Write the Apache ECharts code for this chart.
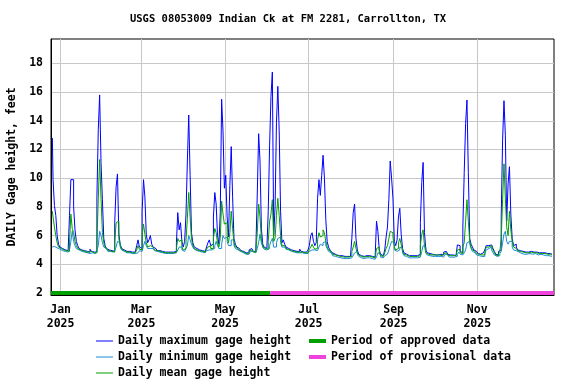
<!DOCTYPE html>
<html>
<head>
<meta charset="utf-8">
<script src="https://cdn.jsdelivr.net/npm/echarts@6/dist/echarts.min.js"></script>
<style>
  html, body { margin: 0; padding: 0; background: #fff; }
  #chart { width: 576px; height: 384px; }
</style>
</head>
<body>
<div id="chart"></div>
<script>
// daily values, one per day starting at firstDay
const firstDay = [2024, 11, 26];

const maxHeight = [
  12.8, 9.9, 8.1, 7.4, 6.0, 5.4, 5.2, 5.1, 5.05, 5.0,
  5.0, 4.95, 4.95, 7.4, 9.9, 9.9, 8.0, 6.4, 5.6, 5.3,
  5.1, 5.0, 5.0, 4.95, 4.9, 4.9, 4.9, 4.85, 5.05, 4.9,
  4.85, 4.85, 4.85, 8.7, 13.4, 15.8, 11.1, 8.5, 5.8, 5.3,
  5.1, 5.0, 5.0, 4.95, 4.95, 4.9, 6.9, 9.4, 10.3, 6.1,
  5.4, 5.1, 5.0, 4.95, 4.9, 4.9, 4.9, 4.85, 4.85, 4.85,
  4.85, 4.85, 5.3, 5.7, 5.2, 5.1, 7.7, 9.9, 8.7, 6.1,
  5.5, 5.7, 6.0, 5.4, 5.2, 5.1, 5.0, 4.95, 4.95, 4.9,
  4.9, 4.9, 4.85, 4.85, 4.85, 4.9, 4.85, 4.85, 4.85, 4.85,
  4.9, 5.5, 7.6, 6.4, 6.9, 5.6, 5.2, 5.6, 7.5, 11.2,
  14.4, 10.2, 6.2, 5.5, 5.2, 5.1, 5.0, 5.0, 4.95, 4.95,
  4.9, 4.9, 4.95, 5.2, 5.5, 5.7, 5.3, 5.4, 7.3, 9.0,
  8.2, 6.0, 5.4, 7.6, 15.5, 13.3, 9.3, 10.2, 7.3, 5.9,
  9.5, 12.2, 8.7, 5.8, 5.4, 5.2, 5.1, 5.0, 4.95, 4.9,
  4.85, 4.8, 4.75, 4.8, 5.0, 5.1, 5.0, 4.9, 4.9, 5.2,
  8.9, 13.1, 11.2, 6.5, 5.4, 5.2, 5.1, 5.2, 7.7, 12.3,
  15.7, 17.4, 6.0, 8.0, 13.9, 16.4, 13.3, 7.7, 5.5, 5.7,
  5.4, 5.2, 5.1, 5.05, 5.0, 5.0, 4.95, 4.95, 4.9, 4.9,
  4.9, 5.05, 4.9, 4.85, 4.85, 4.85, 4.85, 5.0, 5.3, 6.0,
  6.2, 5.6, 5.3, 5.5, 8.6, 9.9, 8.8, 10.2, 11.6, 10.0,
  7.1, 5.6, 5.2, 5.0, 4.85, 4.75, 4.7, 4.65, 4.65, 4.6,
  4.6, 4.6, 4.55, 4.55, 4.55, 4.55, 4.55, 4.55, 4.6, 5.8,
  7.6, 8.2, 5.8, 5.0, 4.7, 4.6, 4.6, 4.55, 4.55, 4.6,
  4.6, 4.6, 4.55, 4.55, 4.5, 4.5, 4.6, 7.0, 6.3, 5.0,
  4.7, 4.6, 4.6, 5.0, 5.9, 6.6, 8.5, 11.2, 10.0, 8.6,
  5.6, 5.3, 5.7, 7.3, 7.9, 6.1, 5.1, 4.8, 4.7, 4.65,
  4.6, 4.6, 4.6, 4.6, 4.6, 4.6, 4.6, 4.6, 4.7, 6.9,
  9.7, 11.1, 6.2, 5.0, 4.8, 4.75, 4.7, 4.7, 4.7, 4.65,
  4.65, 4.65, 4.65, 4.7, 4.65, 4.65, 4.85, 4.9, 4.8, 4.7,
  4.65, 4.65, 4.65, 4.6, 4.6, 4.7, 5.35, 5.3, 4.9, 4.8,
  6.6, 10.4, 13.8, 15.45, 10.4, 5.8, 5.4, 5.2, 5.0, 4.9,
  4.8, 4.75, 4.7, 4.7, 4.8, 4.7, 5.0, 5.3, 5.3, 5.3,
  5.35, 5.3, 5.1, 4.9, 4.7, 4.65, 4.9, 5.0, 7.3, 12.65,
  15.4, 13.0, 7.0, 9.6, 10.8, 7.5, 5.8, 5.3, 5.4, 5.2,
  5.0, 4.95, 4.9, 4.9, 4.85, 4.85, 4.85, 4.85, 4.9, 4.9,
  4.85, 4.85, 4.9, 4.85, 4.8, 4.8, 4.85, 4.8, 4.8, 4.8,
  4.75, 4.75, 4.75, 4.75, 4.7, 4.7
];

const minHeight = [
  5.2, 5.25, 5.2, 5.15, 5.1, 5.05, 5.0, 4.95, 4.95, 4.9,
  4.9, 4.85, 4.85, 5.0, 5.6, 6.3, 5.6, 5.3, 5.1, 5.0,
  4.95, 4.9, 4.9, 4.85, 4.8, 4.8, 4.8, 4.75, 4.8, 4.8,
  4.75, 4.75, 4.75, 5.0, 5.3, 6.3, 6.0, 5.5, 5.2, 5.1,
  5.0, 4.9, 4.9, 4.85, 4.85, 4.8, 5.0, 5.2, 5.6, 5.5,
  5.2, 5.0, 4.9, 4.85, 4.8, 4.8, 4.8, 4.75, 4.75, 4.75,
  4.75, 4.75, 4.8, 4.9, 4.95, 4.9, 5.0, 5.3, 5.6, 5.3,
  5.1, 5.1, 5.2, 5.1, 5.0, 4.95, 4.9, 4.85, 4.85, 4.8,
  4.8, 4.8, 4.75, 4.75, 4.75, 4.8, 4.75, 4.75, 4.75, 4.75,
  4.8, 4.85, 5.0, 5.2, 5.2, 5.0, 4.9, 4.9, 5.1, 5.3,
  6.0, 5.7, 5.4, 5.2, 5.05, 4.95, 4.9, 4.9, 4.85, 4.85,
  4.8, 4.8, 4.85, 4.95, 5.0, 5.1, 5.0, 4.95, 5.1, 5.3,
  5.6, 5.3, 5.1, 5.1, 5.4, 6.0, 5.8, 5.9, 5.6, 5.3,
  5.3, 5.7, 5.7, 5.3, 5.1, 5.0, 4.95, 4.9, 4.85, 4.8,
  4.75, 4.7, 4.65, 4.7, 4.8, 4.9, 4.9, 4.8, 4.8, 4.85,
  5.1, 5.5, 6.1, 5.5, 5.2, 5.05, 5.0, 5.0, 5.1, 5.3,
  5.6, 5.8, 5.2, 5.2, 5.5, 5.8, 5.9, 5.5, 5.2, 5.2,
  5.1, 5.05, 5.0, 4.95, 4.9, 4.9, 4.85, 4.85, 4.8, 4.8,
  4.8, 4.85, 4.8, 4.75, 4.75, 4.75, 4.75, 4.8, 4.9, 5.0,
  5.1, 5.0, 4.95, 4.95, 5.0, 5.2, 5.4, 5.3, 5.5, 5.6,
  5.3, 5.1, 4.9, 4.8, 4.7, 4.6, 4.55, 4.5, 4.5, 4.45,
  4.45, 4.45, 4.4, 4.4, 4.4, 4.4, 4.4, 4.4, 4.45, 4.5,
  4.6, 4.8, 4.9, 4.7, 4.55, 4.45, 4.45, 4.4, 4.4, 4.45,
  4.45, 4.45, 4.4, 4.4, 4.35, 4.35, 4.45, 4.5, 4.8, 4.7,
  4.5, 4.45, 4.45, 4.6, 4.7, 4.8, 5.0, 5.3, 5.6, 5.5,
  5.0, 4.9, 4.8, 5.0, 5.2, 5.1, 4.8, 4.6, 4.55, 4.5,
  4.45, 4.45, 4.45, 4.45, 4.45, 4.45, 4.45, 4.45, 4.5, 4.6,
  4.9, 5.3, 5.2, 4.8, 4.65, 4.6, 4.6, 4.55, 4.55, 4.55,
  4.55, 4.55, 4.55, 4.55, 4.5, 4.5, 4.6, 4.7, 4.65, 4.55,
  4.5, 4.5, 4.5, 4.5, 4.5, 4.55, 4.7, 4.85, 4.7, 4.65,
  4.7, 4.8, 5.0, 5.5, 5.6, 5.4, 5.1, 4.9, 4.8, 4.7,
  4.65, 4.6, 4.55, 4.55, 4.6, 4.55, 4.7, 5.0, 5.1, 5.15,
  5.2, 5.0, 4.8, 4.65, 4.55, 4.5, 4.6, 4.75, 4.9, 5.5,
  6.1, 6.3, 5.6, 5.4, 5.6, 5.6, 5.2, 5.0, 4.95, 4.9,
  4.85, 4.8, 4.75, 4.75, 4.7, 4.7, 4.7, 4.7, 4.75, 4.75,
  4.7, 4.7, 4.75, 4.7, 4.65, 4.65, 4.7, 4.65, 4.65, 4.65,
  4.6, 4.6, 4.6, 4.6, 4.55, 4.55
];

const meanHeight = [
  7.7, 7.3, 6.6, 6.0, 5.5, 5.2, 5.1, 5.05, 5.0, 4.95,
  4.95, 4.9, 4.9, 5.5, 7.5, 6.5, 6.2, 5.6, 5.3, 5.1,
  5.0, 4.95, 4.95, 4.9, 4.85, 4.85, 4.85, 4.8, 4.9, 4.85,
  4.8, 4.8, 4.8, 5.5, 8.6, 11.3, 8.6, 6.2, 5.5, 5.2,
  5.05, 4.95, 4.95, 4.9, 4.9, 4.85, 5.5, 6.9, 7.0, 5.8,
  5.3, 5.05, 4.95, 4.9, 4.85, 4.85, 4.85, 4.8, 4.8, 4.8,
  4.8, 4.8, 5.0, 5.3, 5.05, 5.0, 6.0, 6.8, 6.1, 5.5,
  5.2, 5.3, 5.4, 5.2, 5.1, 5.0, 4.95, 4.9, 4.9, 4.85,
  4.85, 4.85, 4.8, 4.8, 4.8, 4.85, 4.8, 4.8, 4.8, 4.8,
  4.85, 5.1, 5.8, 5.6, 5.7, 5.2, 5.0, 5.1, 5.7, 7.2,
  9.0, 7.3, 5.8, 5.3, 5.1, 5.0, 4.95, 4.95, 4.9, 4.9,
  4.85, 4.85, 4.9, 5.05, 5.2, 5.3, 5.1, 5.1, 5.8, 6.5,
  6.2, 5.5, 5.2, 5.8, 8.4, 7.5, 6.8, 6.9, 6.0, 5.5,
  6.2, 7.7, 6.5, 5.5, 5.2, 5.1, 5.0, 4.95, 4.9, 4.85,
  4.8, 4.75, 4.7, 4.75, 4.9, 5.0, 4.95, 4.85, 4.85, 5.0,
  6.2, 8.2, 7.3, 5.8, 5.2, 5.1, 5.05, 5.05, 5.6, 7.0,
  7.5, 8.5, 5.6, 5.8, 7.4, 8.6, 7.4, 6.0, 5.3, 5.3,
  5.2, 5.1, 5.05, 5.0, 4.95, 4.95, 4.9, 4.9, 4.85, 4.85,
  4.85, 4.95, 4.85, 4.8, 4.8, 4.8, 4.8, 4.9, 5.05, 5.2,
  5.4, 5.2, 5.05, 5.1, 5.7, 6.2, 5.9, 6.0, 6.4, 6.2,
  5.6, 5.2, 5.0, 4.9, 4.8, 4.7, 4.65, 4.6, 4.6, 4.55,
  4.55, 4.55, 4.5, 4.5, 4.5, 4.5, 4.5, 4.5, 4.55, 4.9,
  5.2, 5.6, 5.1, 4.8, 4.65, 4.55, 4.55, 4.5, 4.5, 4.55,
  4.55, 4.55, 4.5, 4.5, 4.45, 4.45, 4.55, 5.1, 5.2, 4.8,
  4.6, 4.55, 4.55, 4.8, 5.1, 5.3, 5.8, 6.3, 6.2, 5.9,
  5.2, 5.0, 5.1, 5.5, 5.8, 5.4, 4.9, 4.7, 4.65, 4.6,
  4.55, 4.55, 4.55, 4.55, 4.55, 4.55, 4.55, 4.55, 4.6, 5.3,
  6.1, 6.4, 5.3, 4.8, 4.7, 4.7, 4.65, 4.65, 4.65, 4.65,
  4.65, 4.65, 4.65, 4.65, 4.6, 4.6, 4.75, 4.8, 4.7, 4.65,
  4.6, 4.6, 4.6, 4.6, 4.6, 4.65, 5.0, 5.05, 4.8, 4.75,
  5.2, 5.5, 7.0, 8.5, 7.0, 5.6, 5.2, 5.0, 4.9, 4.8,
  4.75, 4.7, 4.65, 4.65, 4.7, 4.65, 4.85, 5.2, 5.2, 5.25,
  5.3, 5.2, 5.0, 4.8, 4.65, 4.6, 4.75, 4.9, 5.8, 8.5,
  11.0, 8.6, 6.6, 6.0, 7.7, 6.4, 5.6, 5.2, 5.1, 5.0,
  4.95, 4.9, 4.85, 4.85, 4.8, 4.8, 4.8, 4.8, 4.85, 4.85,
  4.8, 4.8, 4.85, 4.8, 4.75, 4.75, 4.8, 4.75, 4.75, 4.75,
  4.7, 4.7, 4.7, 4.7, 4.65, 4.65
];

const yTicks = [2, 4, 6, 8, 10, 12, 14, 16, 18];
const xTicks = [[2025, 0, 1], [2025, 2, 1], [2025, 4, 1], [2025, 6, 1], [2025, 8, 1], [2025, 10, 1]];
const monthNames = ['Jan', 'Feb', 'Mar', 'Apr', 'May', 'Jun', 'Jul', 'Aug', 'Sep', 'Oct', 'Nov', 'Dec'];
const approvedPeriod = [[2024, 11, 25], [2025, 5, 3]];
const provisionalPeriod = [[2025, 5, 3], [2025, 11, 27]];
const periodLevel = 2;

const FONT = '"DejaVu Sans Mono", monospace';
const toTime = d => +new Date(d[0], d[1], d[2]);
const dayTime = i => +new Date(firstDay[0], firstDay[1], firstDay[2] + i);

function daily(list) {
  return list.map((v, i) => [dayTime(i), v]);
}

const chart = echarts.init(document.getElementById('chart'), null, { renderer: 'canvas' });

const lineSeries = (name, data, color) => ({
  name,
  type: 'line',
  data: daily(data),
  step: 'middle',
  symbol: 'none',
  silent: true,
  lineStyle: { color, width: 1 },
  itemStyle: { color }
});

const periodSeries = (name, period, color) => ({
  name,
  type: 'line',
  data: period.map(d => [toTime(d), periodLevel]),
  symbol: 'none',
  silent: true,
  lineStyle: { color, width: 4, cap: 'butt' },
  itemStyle: { color },
  z: 3
});

const tickTimes = xTicks.map(toTime);
const legendText = { fontFamily: FONT, fontWeight: 'bold', fontSize: 11.5, color: '#000', lineHeight: 14 };

chart.setOption({
  animation: false,
  backgroundColor: '#fff',
  title: {
    text: 'USGS 08053009 Indian Ck at FM 2281, Carrollton, TX',
    left: 'center',
    top: 14,
    padding: 0,
    textStyle: { fontFamily: FONT, fontWeight: 'bold', fontSize: 10.5, color: '#000' }
  },
  grid: {
    left: 51, right: 22, top: 39, bottom: 89,
    outerBoundsMode: 'none',
    show: true, borderColor: '#000', borderWidth: 1
  },
  legend: [{
    left: 96, top: 334, height: 80, padding: 0, orient: 'vertical',
    icon: 'rect', itemWidth: 17, itemHeight: 1, itemGap: 2, itemTextGap: 6,
    textStyle: legendText,
    data: ['Daily maximum gage height', 'Daily minimum gage height', 'Daily mean gage height']
  }, {
    left: 309, top: 334, height: 80, padding: 0, orient: 'vertical',
    icon: 'rect', itemWidth: 17, itemHeight: 4, itemGap: 2, itemTextGap: 7,
    textStyle: legendText,
    data: ['Period of approved data', 'Period of provisional data']
  }],
  xAxis: {
    type: 'value',
    min: toTime([2024, 11, 25]),
    max: toTime([2025, 11, 27]),
    axisLine: { lineStyle: { color: '#000', width: 1 } },
    axisTick: { show: false, customValues: tickTimes },
    axisLabel: {
      customValues: tickTimes,
      formatter: v => { const d = new Date(v); return monthNames[d.getMonth()] + '\n' + d.getFullYear(); },
      fontFamily: FONT, fontWeight: 'bold', fontSize: 11.5, color: '#000', lineHeight: 14, margin: 8
    },
    splitLine: { show: true, lineStyle: { color: '#c8c8c8', width: 1 } }
  },
  yAxis: {
    type: 'value',
    min: 1.86,
    max: 19.7,
    name: 'DAILY Gage height, feet',
    nameLocation: 'middle',
    nameGap: 33,
    nameTextStyle: { fontFamily: FONT, fontWeight: 'bold', fontSize: 11.5, color: '#000' },
    axisLine: { show: true, lineStyle: { color: '#000', width: 1 } },
    axisTick: { show: false, customValues: yTicks },
    axisLabel: {
      customValues: yTicks,
      fontFamily: FONT, fontWeight: 'bold', fontSize: 11.5, color: '#000', margin: 8
    },
    splitLine: { show: true, lineStyle: { color: '#c8c8c8', width: 1 } }
  },
  series: [
    lineSeries('Daily maximum gage height', maxHeight, '#0000ff'),
    lineSeries('Daily minimum gage height', minHeight, '#1c8ad8'),
    lineSeries('Daily mean gage height', meanHeight, '#00a000'),
    periodSeries('Period of approved data', approvedPeriod, '#00a000'),
    periodSeries('Period of provisional data', provisionalPeriod, '#ee44dd')
  ]
});
</script>
</body>
</html>
